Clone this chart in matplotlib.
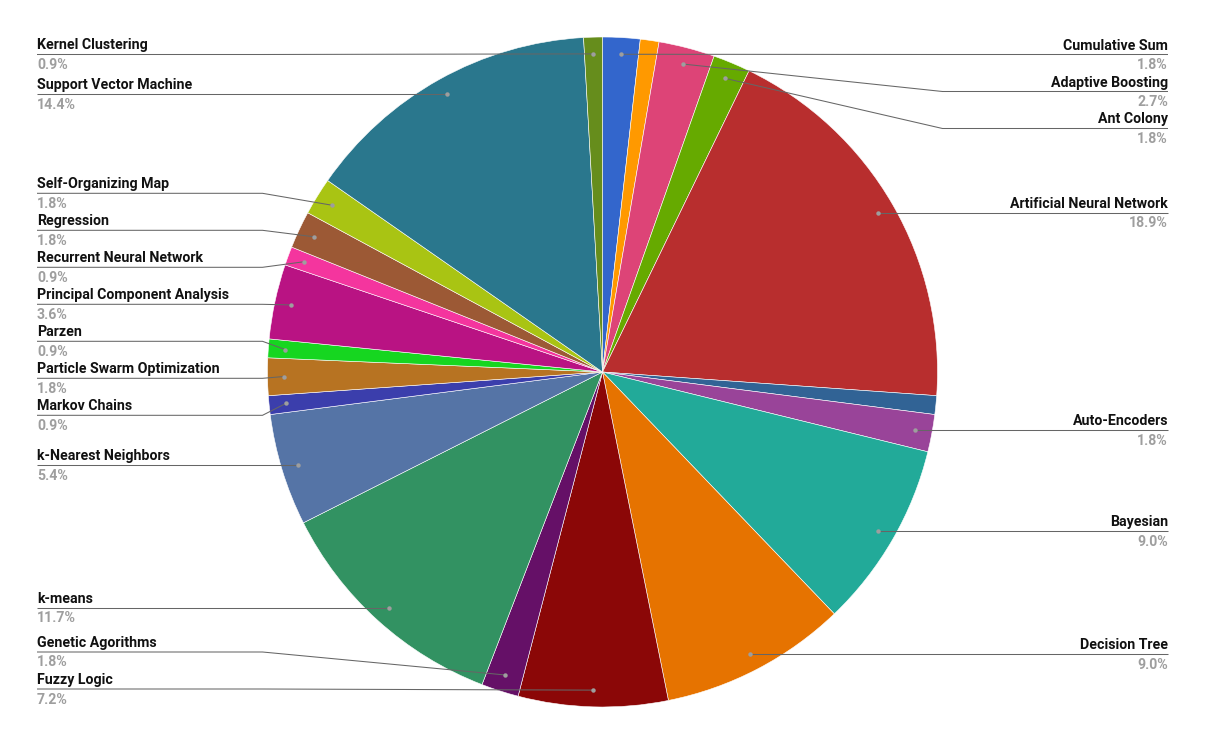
import matplotlib
matplotlib.use("Agg")
import matplotlib.pyplot as plt
import numpy as np

# counts per method (out of 111 papers), clockwise from 12 o'clock
labels = ['Cumulative Sum', '', 'Adaptive Boosting', 'Ant Colony',
          'Artificial Neural Network', '', 'Auto-Encoders', 'Bayesian',
          'Decision Tree', 'Fuzzy Logic', 'Genetic Agorithms', 'k-means',
          'k-Nearest Neighbors', 'Markov Chains', 'Particle Swarm Optimization',
          'Parzen', 'Principal Component Analysis', 'Recurrent Neural Network',
          'Regression', 'Self-Organizing Map', 'Support Vector Machine',
          'Kernel Clustering']
values = [2, 1, 3, 2, 21, 1, 2, 10, 10, 8, 2, 13, 6, 1, 2, 1, 4, 1, 2, 2, 16, 1]
colors = ['#3366cc', '#ff9900', '#dd4477', '#66aa00', '#b82e2e', '#316395',
          '#994499', '#22aa99', '#e67300', '#8b0707', '#651067', '#329262',
          '#5574a6', '#3b3eac', '#b77322', '#16d620', '#b91383', '#f4359e',
          '#9c5935', '#a9c413', '#2a778d', '#668d1c']

W, H = 1205, 745
cx, cy, R = 602.5, 372, 335
gap = 37          # vertical spacing of labels
lo, hi = 54.5, 689

fig = plt.figure(figsize=(W / 100, H / 100), dpi=100)
ax = fig.add_axes([0, 0, 1, 1])

# y axis is flipped (pixel coords), so counterclock=True draws clockwise on screen
wedges, _ = ax.pie(values, colors=colors, startangle=-90, counterclock=True,
                   center=(cx, cy), radius=R,
                   wedgeprops=dict(edgecolor='white', linewidth=0.4))
ax.set_xlim(0, W)
ax.set_ylim(H, 0)
ax.set_aspect('auto')
ax.axis('off')

total = sum(values)


def spread(items):
    clusters = [[it] for it in items]

    def place(cl):
        n = len(cl)
        mid = (cl[0][0] + cl[-1][0]) / 2
        s = mid - (n - 1) * gap / 2
        return max(lo, min(s, hi - (n - 1) * gap))

    changed = True
    while changed:
        changed = False
        for i in range(len(clusters) - 1):
            e1 = place(clusters[i]) + (len(clusters[i]) - 1) * gap
            if place(clusters[i + 1]) - e1 < gap:
                clusters[i] = clusters[i] + clusters[i + 1]
                del clusters[i + 1]
                changed = True
                break
    out = {}
    for cl in clusters:
        s = place(cl)
        for k, (y, idx) in enumerate(cl):
            out[idx] = s + k * gap
    return out


dots = {}
right, left = [], []
for i, w in enumerate(wedges):
    if not labels[i]:
        continue
    mid = np.deg2rad((w.theta1 + w.theta2) / 2)
    dx = cx + 0.95 * R * np.cos(mid)
    dy = cy + 0.95 * R * np.sin(mid)
    dots[i] = (dx, dy)
    if np.cos(mid) > 0:
        right.append((dy, i))
    else:
        left.append((dy, i))

ly = {}
ly.update(spread(sorted(right)))
ly.update(spread(sorted(left)))

for i, (dx, dy) in dots.items():
    y = ly[i]
    is_right = dx > cx
    ex = cx + R + 5 if is_right else cx - R - 5
    tx = 1168 if is_right else 37
    ha = 'right' if is_right else 'left'
    ax.plot([dx, ex, tx], [dy, y, y], color='#666666', lw=0.75, zorder=3,
            solid_capstyle='butt')
    ax.plot(dx, dy, 'o', color='#9e9e9e', ms=3.2, mec='none', zorder=4)
    ax.text(tx, y - 5, labels[i], ha=ha, va='baseline', fontsize=10.2,
            fontweight='bold', family='Roboto', color='#111111')
    pct = '%.1f%%' % (values[i] / total * 100)
    ax.text(tx, y + 14.5, pct, ha=ha, va='baseline', fontsize=10.2,
            fontweight='bold', family='Roboto', color='#9e9e9e')

fig.savefig('out.png', dpi=100, facecolor='white')
